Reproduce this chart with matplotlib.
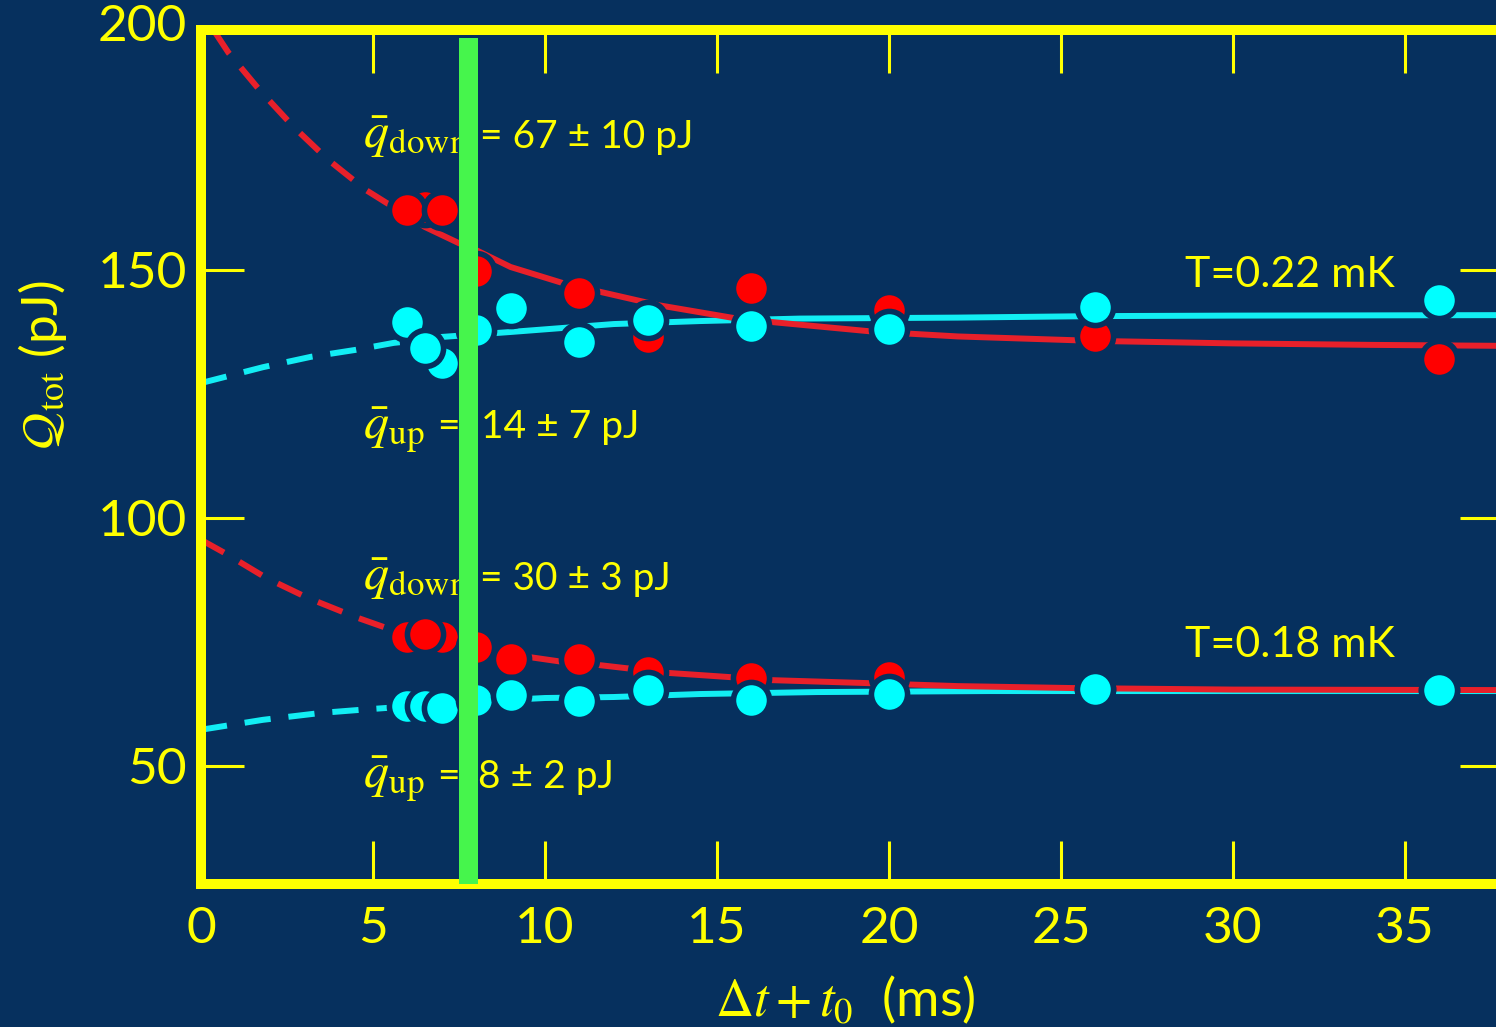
import matplotlib
matplotlib.use('Agg')
import matplotlib.pyplot as plt

plt.rcParams['font.family'] = ['Lato', 'DejaVu Sans']
plt.rcParams['mathtext.fontset'] = 'stix'

bg = '#06305E'
yellow = '#FFFF00'
red_line = '#E8202A'
red_mark = '#FF0000'
cyan_line = '#12EEF4'
cyan_mark = '#00FFFF'
green = '#46F54C'

# measured points, T = 0.22 mK (order kept so overlaps look like the original)
t_red_hi = [6.5, 6, 7, 8, 11, 13, 16, 20, 26, 36]
q_red_hi = [162.7, 162.1, 162.1, 149.7, 145.4, 136.5, 146.4, 142.0, 136.7, 132.1]
t_cyan_hi = [6, 7, 6.5, 8, 9, 11, 13, 16, 20, 26, 36]
q_cyan_hi = [139.5, 131.3, 134.3, 137.9, 142.3, 135.5, 139.9, 138.7, 138.1, 142.5, 144.0]

# measured points, T = 0.18 mK
t_red_lo = [6, 7, 6.5, 8, 9, 11, 13, 16, 20, 26, 36]
q_red_lo = [76.0, 76.0, 76.6, 74.0, 71.6, 71.6, 69.0, 67.7, 67.9, 65.6, 65.4]
t_cyan_lo = [6, 6.5, 7, 8, 9, 11, 13, 16, 20, 26, 36]
q_cyan_lo = [62.1, 62.1, 61.7, 63.3, 64.3, 63.1, 65.3, 63.3, 64.5, 65.5, 65.3]

# fit curves: dashed (extrapolated) and solid parts
fit_red_hi_dash_t = [0.4, 0.8, 1.7, 2.7, 3.7, 4.8, 5.4, 6.0]
fit_red_hi_dash_q = [198.0, 193.8, 186.3, 178.8, 172.2, 166.1, 163.5, 161.2]
fit_red_hi_t = [6.0, 6.5, 7.5, 8, 9, 10.5, 11.6, 13.3, 15.5, 16.6, 19.5, 22, 26, 30, 34, 37.9]
fit_red_hi_q = [161.2, 158.7, 155.4, 154.0, 150.6, 147.4, 145.6, 142.9, 140.3, 139.5,
                137.6, 136.6, 135.7, 135.2, 134.9, 134.7]

fit_cyan_hi_dash_t = [0, 1.8, 3.2, 4.5, 5.6, 6.0]
fit_cyan_hi_dash_q = [127.2, 130.4, 132.5, 133.9, 135.3, 135.6]
fit_cyan_hi_t = [6.0, 7, 9, 10.5, 12, 14.5, 17.4, 22, 26, 30, 37.9]
fit_cyan_hi_q = [135.6, 136.5, 137.5, 138.3, 139.1, 139.7, 140.2, 140.4, 140.7, 140.8, 140.9]

fit_red_lo_dash_t = [0, 0.7, 1.9, 3.1, 4.5, 5.4, 6.0]
fit_red_lo_dash_q = [95.6, 92.9, 87.9, 83.9, 80.0, 77.8, 76.8]
fit_red_lo_t = [6.0, 8, 9.5, 10.5, 11.5, 13.5, 15.4, 16.6, 19.4, 22, 25.4, 30, 37.9]
fit_red_lo_q = [76.8, 73.8, 72.0, 71.0, 70.4, 68.8, 67.9, 67.3, 66.7, 66.1, 65.7, 65.4, 65.3]

fit_cyan_lo_dash_t = [0, 1.8, 3.5, 4.6, 6.0]
fit_cyan_lo_dash_q = [57.3, 59.3, 60.7, 61.3, 62.0]
fit_cyan_lo_t = [6.0, 8, 10, 12, 14.5, 17.9, 22.9, 26, 30, 37.9]
fit_cyan_lo_q = [62.0, 63.0, 63.7, 63.9, 64.5, 64.9, 65.1, 65.1, 65.1, 65.1]

x_ticks = [0, 5, 10, 15, 20, 25, 30, 35]
y_ticks = [50, 100, 150, 200]

fig = plt.figure(figsize=(14.96, 10.27), dpi=100, facecolor=bg)
ax = fig.add_axes([201 / 1496, (1027 - 883.5) / 1027, 1302 / 1496, 861.5 / 1027])
ax.set_facecolor(bg)
ax.set_xlim(0, 37.85)
ax.set_ylim(26.3, 200)

frame_top = 198.4
dash = (0, (4.4, 3.0))
lw = 4.3

# lines (cyan under red)
for t, q, c, z in [(fit_cyan_hi_t, fit_cyan_hi_q, cyan_line, 2),
                   (fit_cyan_lo_t, fit_cyan_lo_q, cyan_line, 2),
                   (fit_red_hi_t, fit_red_hi_q, red_line, 2.1),
                   (fit_red_lo_t, fit_red_lo_q, red_line, 2.1)]:
    ax.plot(t, q, color=c, lw=lw, zorder=z, solid_capstyle='butt')
for t, q, c, z in [(fit_cyan_hi_dash_t, fit_cyan_hi_dash_q, cyan_line, 2),
                   (fit_cyan_lo_dash_t, fit_cyan_lo_dash_q, cyan_line, 2),
                   (fit_red_hi_dash_t, fit_red_hi_dash_q, red_line, 2.1),
                   (fit_red_lo_dash_t, fit_red_lo_dash_q, red_line, 2.1)]:
    ax.plot(t, q, color=c, lw=lw, ls=dash, dash_capstyle='butt', zorder=z)

# data points
mk = dict(ls='none', marker='o', ms=26, mew=4.0, mec=bg)
for t, q in [(t_red_hi, q_red_hi), (t_red_lo, q_red_lo)]:
    ax.plot(t, q, mfc=red_mark, zorder=3, **mk)
for t, q in [(t_cyan_hi, q_cyan_hi), (t_cyan_lo, q_cyan_lo)]:
    ax.plot(t, q, mfc=cyan_mark, zorder=4, **mk)

# green marker bar
ax.fill_between([7.5, 8.05], 26.3, 196.8, color=green, lw=0, zorder=6)

# annotations
qfs = 36
nfs = 28
ax.text(4.72, 174.6, r'$\bar{q}_{\rm down}$', color=yellow, fontsize=qfs, va='baseline', zorder=5)
ax.text(8.1, 174.6, '= 67 ± 10 pJ', color=yellow, fontsize=nfs, va='baseline', zorder=5)
ax.text(4.72, 116.1, r'$\bar{q}_{\rm up}$', color=yellow, fontsize=qfs, va='baseline', zorder=5)
ax.text(6.86, 116.1, '=', color=yellow, fontsize=nfs, va='baseline', zorder=5)
ax.text(8.15, 116.1, '14 ± 7 pJ', color=yellow, fontsize=nfs, va='baseline', zorder=5)
ax.text(4.72, 85.5, r'$\bar{q}_{\rm down}$', color=yellow, fontsize=qfs, va='baseline', zorder=5)
ax.text(8.1, 85.5, '= 30 ± 3 pJ', color=yellow, fontsize=nfs, va='baseline', zorder=5)
ax.text(4.72, 45.6, r'$\bar{q}_{\rm up}$', color=yellow, fontsize=qfs, va='baseline', zorder=5)
ax.text(6.86, 45.6, '=', color=yellow, fontsize=nfs, va='baseline', zorder=5)
ax.text(8.05, 45.6, '8 ± 2 pJ', color=yellow, fontsize=nfs, va='baseline', zorder=5)
ax.text(28.6, 146.6, 'T=0.22 mK', color=yellow, fontsize=31, va='baseline', zorder=5)
ax.text(28.6, 72.0, 'T=0.18 mK', color=yellow, fontsize=31, va='baseline', zorder=5)

# frame
for s in ax.spines.values():
    s.set_color(yellow)
    s.set_linewidth(7.2)
ax.spines['top'].set_position(('data', frame_top))
ax.spines['left'].set_bounds(26.3, frame_top)
ax.spines['right'].set_bounds(26.3, frame_top)

ax.set_xticks(x_ticks)
ax.set_yticks(y_ticks)
ax.tick_params(direction='in', length=31, width=2.2, color=yellow, labelcolor=yellow,
               labelsize=37, top=True, right=True)
ax.tick_params(axis='x', pad=16)
ax.tick_params(axis='y', pad=10)
ax.yaxis.get_major_ticks()[-1].tick1line.set_visible(False)
ax.yaxis.get_major_ticks()[-1].tick2line.set_visible(False)

ax.text(0.4946, -0.1352, r'$\Delta t + t_0$  (ms)', transform=ax.transAxes, color=yellow,
        fontsize=38, ha='center', va='center')
ax.text(-0.1214, 0.6019, r'$\mathcal{Q}_{\rm tot}$ (pJ)', transform=ax.transAxes, color=yellow,
        fontsize=37, ha='center', va='center', rotation=90)

fig.savefig('out.png', dpi=100, facecolor=bg)
